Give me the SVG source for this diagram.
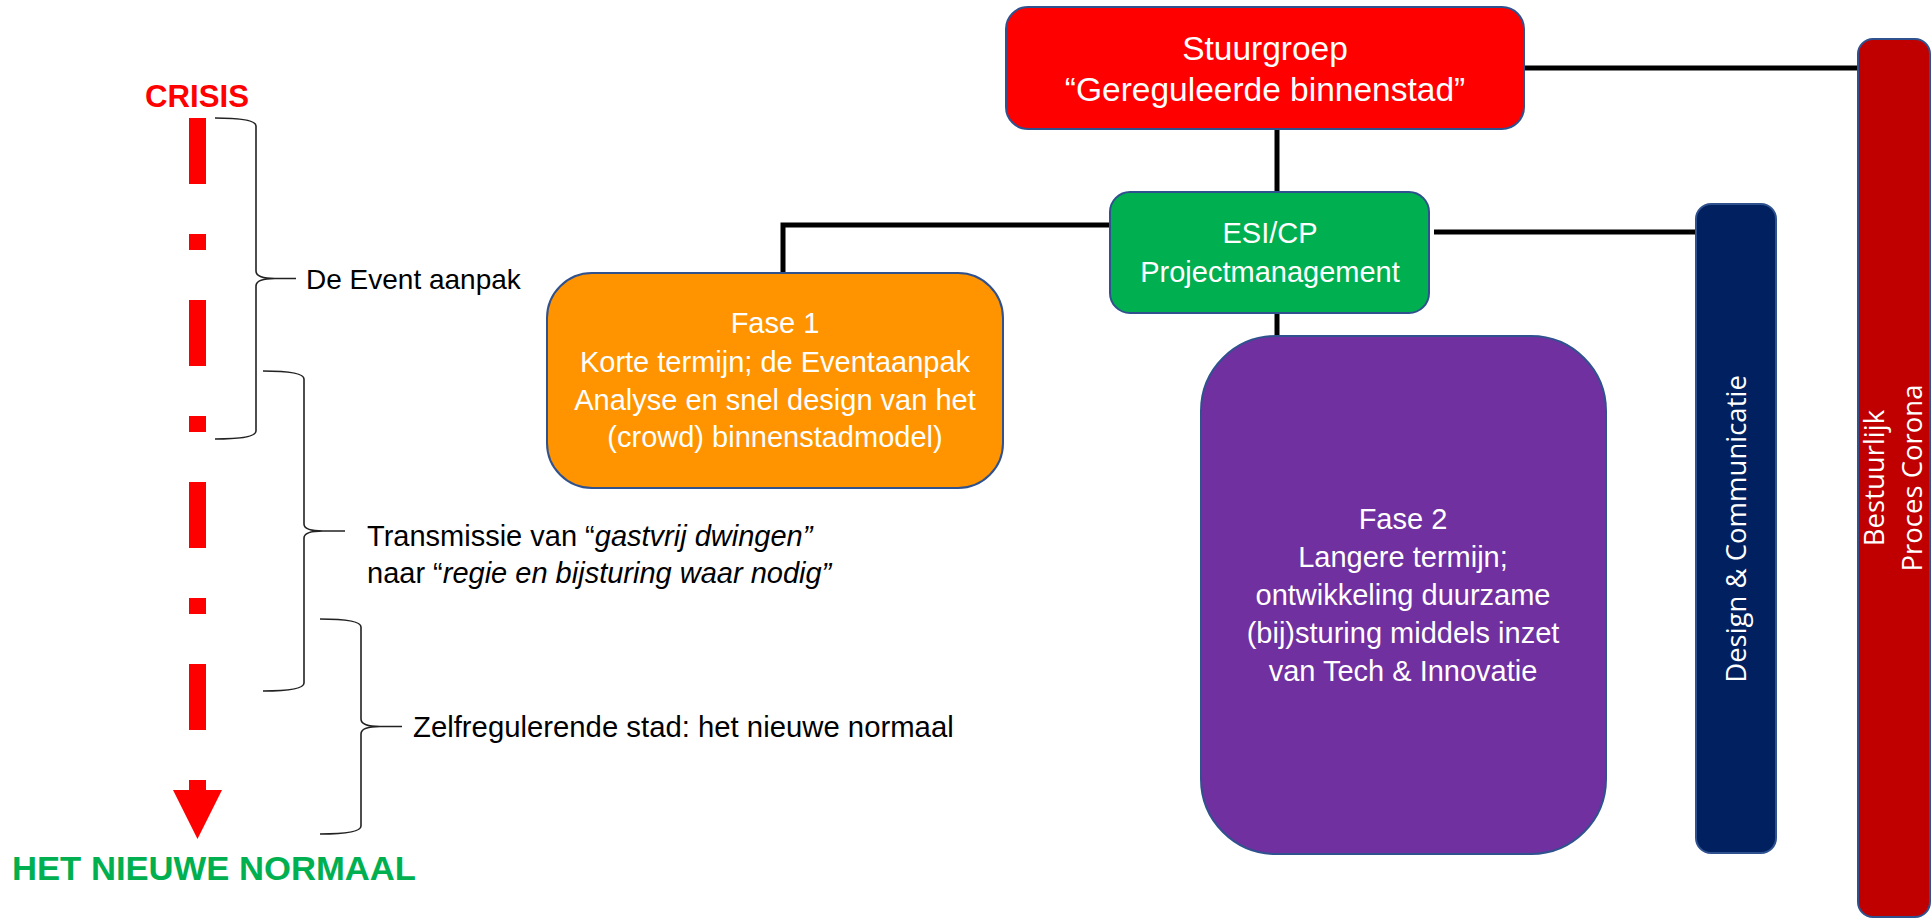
<svg xmlns="http://www.w3.org/2000/svg" width="1932" height="921" viewBox="0 0 1932 921">
<style>
.lbl{font-family:"Liberation Sans",Arial,sans-serif;fill:#000;font-size:29px}
.wt{font-family:"Liberation Sans",Arial,sans-serif;fill:#fff;font-size:29px;text-anchor:middle}
.big{font-size:33.5px}
.s28{font-size:28px}
.s293{font-size:29.3px}
.vt{font-family:"Open Sans","Liberation Sans",sans-serif;fill:#fff;font-size:27.5px;text-anchor:middle}
.box{stroke:#2F528F;stroke-width:2}
.conn{stroke:#000;stroke-width:5;fill:none}
.brace{stroke:#222;stroke-width:1.6;fill:none}
</style>
<rect width="1932" height="921" fill="#fff"/>

<g id="timeline">
  <text x="145" y="107" font-family="Liberation Sans,Arial,sans-serif" font-weight="bold" font-size="32" fill="#FF0000" textLength="104" lengthAdjust="spacingAndGlyphs">CRISIS</text>
  <line x1="197.5" y1="118" x2="197.5" y2="790" stroke="#FF0000" stroke-width="17" stroke-dasharray="66 50 16 50"/>
  <polygon points="173,790 222,790 197.5,839" fill="#FF0000"/>
  <text x="12" y="880" font-family="Liberation Sans,Arial,sans-serif" font-weight="bold" font-size="34" fill="#00B050" textLength="404" lengthAdjust="spacingAndGlyphs">HET NIEUWE NORMAAL</text>
</g>

<g id="brace1">
  <path class="brace" d="M215 118 C240 118 256 120 256 126 L256 271 C256 276 262 278.5 275 278.5 L296 278.5 M275 278.5 C262 278.5 256 281 256 286 L256 431 C256 437 240 439 215 439"/>
  <text class="lbl s28" x="306" y="289">De Event aanpak</text>
</g>
<g id="brace2">
  <path class="brace" d="M263 371 C288 371 304 373 304 379 L304 524 C304 529 310 531 323 531 L345 531 M323 531 C310 531 304 533 304 538 L304 683 C304 689 288 691 263 691"/>
  <text class="lbl" x="367" y="546">Transmissie van “<tspan font-style="italic">gastvrij dwingen”</tspan></text>
  <text class="lbl" x="367" y="583">naar “<tspan font-style="italic">regie en bijsturing waar nodig”</tspan></text>
</g>
<g id="brace3">
  <path class="brace" d="M320 619 C345 619 361 621 361 627 L361 719 C361 724 367 726.5 380 726.5 L402 726.5 M380 726.5 C367 726.5 361 729 361 734 L361 826 C361 832 345 834 320 834"/>
  <text class="lbl s293" x="413" y="737">Zelfregulerende stad: het nieuwe normaal</text>
</g>

<g id="connectors">
  <line class="conn" x1="1277" y1="129" x2="1277" y2="192"/>
  <polyline class="conn" points="1110,225 783,225 783,273"/>
  <line class="conn" x1="1277" y1="313" x2="1277" y2="336"/>
  <line class="conn" x1="1434" y1="232" x2="1696" y2="232"/>
  <line class="conn" x1="1524" y1="68" x2="1858" y2="68"/>
</g>

<g id="stuurgroep">
  <rect class="box" x="1006" y="7" width="518" height="122" rx="22" fill="#FF0000"/>
  <text class="wt big" x="1265" y="60">Stuurgroep</text>
  <text class="wt big" x="1265" y="101">“Gereguleerde binnenstad”</text>
</g>

<g id="esi">
  <rect class="box" x="1110" y="192" width="319" height="121" rx="20" fill="#00B050"/>
  <text class="wt" x="1270" y="243">ESI/CP</text>
  <text class="wt" x="1270" y="282">Projectmanagement</text>
</g>

<g id="fase1">
  <rect class="box" x="547" y="273" width="456" height="215" rx="45" fill="#FF9400"/>
  <text class="wt" x="775" y="333">Fase 1</text>
  <text class="wt" x="775" y="372">Korte termijn; de Eventaanpak</text>
  <text class="wt" x="775" y="410">Analyse en snel design van het</text>
  <text class="wt" x="775" y="447">(crowd) binnenstadmodel)</text>
</g>

<g id="fase2">
  <rect class="box" x="1201" y="336" width="405" height="518" rx="75" fill="#7030A0"/>
  <text class="wt" x="1403" y="529">Fase 2</text>
  <text class="wt" x="1403" y="567">Langere termijn;</text>
  <text class="wt" x="1403" y="605">ontwikkeling duurzame</text>
  <text class="wt" x="1403" y="643">(bij)sturing middels inzet</text>
  <text class="wt" x="1403" y="681">van Tech &amp; Innovatie</text>
</g>

<g id="design">
  <rect class="box" x="1696" y="204" width="80" height="649" rx="15" fill="#002060"/>
  <text class="vt" transform="translate(1746,529) rotate(-90)">Design &amp; Communicatie</text>
</g>

<g id="bestuurlijk">
  <rect class="box" x="1858" y="39" width="72" height="878" rx="15" fill="#C00000"/>
  <text class="vt" transform="translate(1884,478) rotate(-90)">Bestuurlijk</text>
  <text class="vt" transform="translate(1922,478) rotate(-90)">Proces Corona</text>
</g>
</svg>
